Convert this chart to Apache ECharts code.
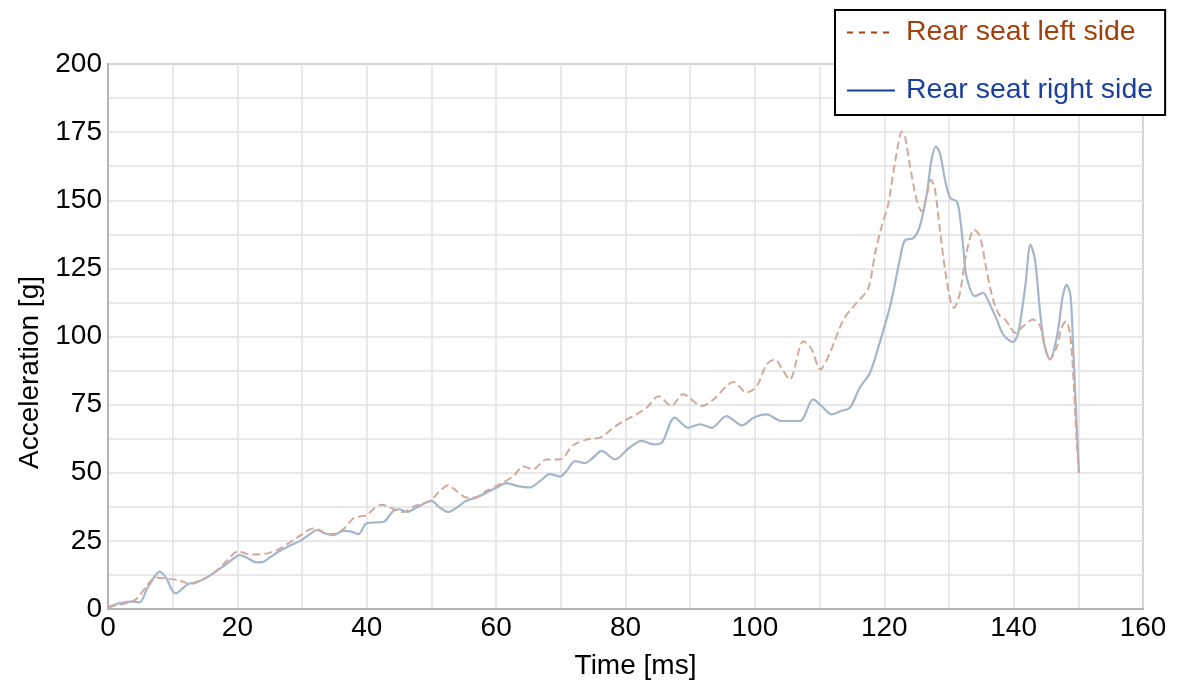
<!DOCTYPE html>
<html>
<head>
<meta charset="utf-8">
<script src="https://cdn.jsdelivr.net/npm/echarts@6/dist/echarts.min.js"></script>
<style>
html,body{margin:0;padding:0;background:#fff;}
#chart{width:1186px;height:685px;}
</style>
</head>
<body>
<div id="chart"></div>
<script>
// Rear seat left side (dashed)
const leftTime = [0,1.5,3,4.4,6.0,7.3,8.5,11.1,12.7,14.5,16.5,18.3,20.1,21.5,23.0,24.8,26.1,28.1,29.7,31.7,32.7,33.8,34.8,36.4,37.9,39.0,40.0,41.0,42.3,43.6,45.6,47.5,49.8,51.3,52.6,53.9,55.4,56.7,58.5,60.6,62.7,64.2,65.7,67.8,69.9,71.9,74.5,76.1,78.1,80.2,81.2,83.3,85.1,87.1,88.9,91.8,93.6,96.7,98.7,100.3,101.8,103.1,104.4,105.4,107.5,108.8,110.1,111.6,113.7,115.7,117.5,118.6,119.6,120.6,121.4,122.2,122.7,123.2,124.0,125.0,125.8,126.6,127.2,127.8,128.6,129.4,130.2,130.8,131.7,132.7,133.9,134.8,135.8,136.9,137.9,138.7,139.4,140.2,141.5,143.0,144.1,144.8,145.6,146.7,147.4,148.1,148.7,149.2,149.7,150.1];
const leftAccel = [0.5,1.5,2.2,3.7,8.5,11.5,11.3,10.4,9.2,10.8,13.5,17.5,21.2,20.2,20.0,20.5,21.6,24.4,26.9,29.5,29.0,27.5,27.5,29.3,33.2,34.0,34.4,36.6,38.3,37.2,35.6,37.9,39.7,43.3,45.4,43.3,40.9,40.9,43.3,45.8,48.8,52.3,51.3,54.9,54.9,60.1,62.5,62.9,66.5,69.6,70.8,73.9,78.1,74.5,78.8,74.5,76.9,83.3,79.4,81.8,89.7,91.6,87.3,84.2,98.3,95.2,87.9,94.0,106.2,112.3,117.5,130.7,140.4,148.4,160,171,175.2,173.4,162.4,150.2,145.9,152,157.5,154.5,139.2,124.5,113.6,110.5,116,130.7,139.2,136.7,124.5,112.9,107.4,106.2,103.8,101.3,103.8,106.2,103.8,96.4,91.6,96.4,103.2,105.6,101.3,86.7,63.5,50.1];

// Rear seat right side (solid)
const rightTime = [0,1.9,3.9,4.9,6.0,7.3,8.0,9.1,9.8,10.5,11.4,12.4,13.7,15.3,16.8,18.3,19.6,20.4,21.4,23.0,24.0,25.0,26.6,28.1,29.7,31.2,32.3,33.8,34.8,36.4,37.5,38.7,40.0,42.6,44.1,45.1,46.2,47.7,50.0,51.3,52.6,53.9,55.4,57.0,58.5,60.1,61.6,63.2,65.2,66.8,68.3,69.9,70.9,72.2,73.7,75.0,76.3,78.4,80.5,82.5,84.3,85.6,87.6,89.7,91.5,93.3,95.6,98.0,99.8,101.8,104.1,105.4,107.0,109.0,110.3,111.9,113.2,114.7,116.2,117.8,119.4,121.0,122.4,123.2,124.5,125.5,126.6,127.3,128.0,128.6,129.4,130.2,131.2,131.7,132.3,132.7,134.0,135.3,136.1,137.4,138.4,139.9,140.7,141.8,142.6,143.3,144.1,144.8,145.6,146.7,147.6,148.2,148.8,149.2,149.7,150.1];
const rightAccel = [0.7,2.2,2.7,2.4,7.3,12.2,13.7,11.0,7.3,5.7,7.3,9.2,9.8,11.6,14.0,16.5,18.9,19.8,18.9,17.1,17.3,18.9,21.4,23.2,25.0,27.5,29.0,27.5,27.1,28.7,28.5,27.5,31.5,32.0,36.0,36.6,35.6,37.2,39.7,37.2,35.6,37.2,39.7,40.9,42.7,44.6,46.2,45.2,44.6,47.0,49.5,48.6,50.7,54.3,53.5,55.6,58.0,54.9,59.0,61.7,60.4,61.0,70.2,66.5,67.8,66.5,70.8,67.4,70.2,71.4,69.0,69.0,69.0,76.9,74.5,71.4,72.6,73.9,81.2,86.7,98.6,112.0,128.2,135.3,136.1,140.4,152.6,164.8,169.7,167.3,157.5,150.8,149.6,144.1,130.7,122.1,114.8,116.0,112.9,106.2,100.7,97.9,101.3,118.4,133.7,128.2,108.7,96.4,91.6,100.1,114.8,119.0,114.8,96.0,70.0,50.0];

const xTicks = {min: 0, max: 160, interval: 20};
const yTicks = {min: 0, max: 200, interval: 25};

const zip = (a, b) => a.map((t, i) => [t, b[i]]);
const FONT = '"Liberation Sans", Arial, sans-serif';

const chart = echarts.init(document.getElementById('chart'), null, {renderer: 'canvas'});
chart.setOption({
  backgroundColor: '#ffffff',
  animation: false,
  textStyle: {fontFamily: FONT},
  grid: {left: 108, right: 43, top: 64, bottom: 75, show: true, borderColor: '#b4b4b4', borderWidth: 2, backgroundColor: 'transparent'},
  legend: {
    orient: 'vertical',
    left: 835, top: 10,
    backgroundColor: '#ffffff',
    borderColor: '#000000', borderWidth: 2,
    padding: [8, 12, 10, 11],
    itemWidth: 48, itemHeight: 14, itemGap: 29,
    textStyle: {fontSize: 28.5, fontFamily: FONT, padding: [0, 0, 0, 6]},
    data: [
      {name: 'Rear seat left side', lineStyle: {color: '#a0400d', type: [6, 6], width: 2}, itemStyle: {color: '#a0400d', opacity: 0}, textStyle: {color: '#a0400d'}},
      {name: 'Rear seat right side', lineStyle: {color: '#1b3f9c', type: 'solid', width: 2}, itemStyle: {color: '#1b3f9c', opacity: 0}, textStyle: {color: '#1b3f9c'}}
    ]
  },
  xAxis: {
    type: 'value', min: xTicks.min, max: xTicks.max, interval: xTicks.interval,
    name: 'Time [ms]', nameLocation: 'middle', nameGap: 43,
    nameTextStyle: {fontSize: 28, color: '#000', fontFamily: FONT, padding: [0, 0, 0, 20]},
    axisLine: {show: true, lineStyle: {color: '#b4b4b4', width: 2}},
    axisTick: {show: false},
    axisLabel: {fontSize: 28, color: '#000', margin: 5, fontFamily: FONT},
    splitLine: {show: true, lineStyle: {color: '#e2e2e2', width: 1.5}},
    minorTick: {show: false, splitNumber: 2},
    minorSplitLine: {show: true, lineStyle: {color: '#e2e2e2', width: 1.5}}
  },
  yAxis: {
    type: 'value', min: yTicks.min, max: yTicks.max, interval: yTicks.interval,
    name: 'Acceleration [g]', nameLocation: 'middle', nameGap: 64,
    nameTextStyle: {fontSize: 28, color: '#000', fontFamily: FONT, padding: [0, 72, 0, 0]},
    axisLine: {show: true, lineStyle: {color: '#b4b4b4', width: 2}},
    axisTick: {show: false},
    axisLabel: {fontSize: 28, color: '#000', margin: 6, fontFamily: FONT},
    splitLine: {show: true, lineStyle: {color: '#e2e2e2', width: 1.5}},
    minorTick: {show: false, splitNumber: 2},
    minorSplitLine: {show: true, lineStyle: {color: '#e2e2e2', width: 1.5}}
  },
  series: [
    {
      name: 'Rear seat right side', type: 'line', data: zip(rightTime, rightAccel),
      symbol: 'none', smooth: 0.3, z: 2,
      lineStyle: {color: '#a3b6cc', width: 2.2},
      itemStyle: {color: '#a3b6cc'}
    },
    {
      name: 'Rear seat left side', type: 'line', data: zip(leftTime, leftAccel),
      symbol: 'none', smooth: 0.3, z: 3,
      lineStyle: {color: '#d2aa9c', width: 2, type: [8, 4]},
      itemStyle: {color: '#d2aa9c'}
    }
  ]
});
</script>
</body>
</html>
